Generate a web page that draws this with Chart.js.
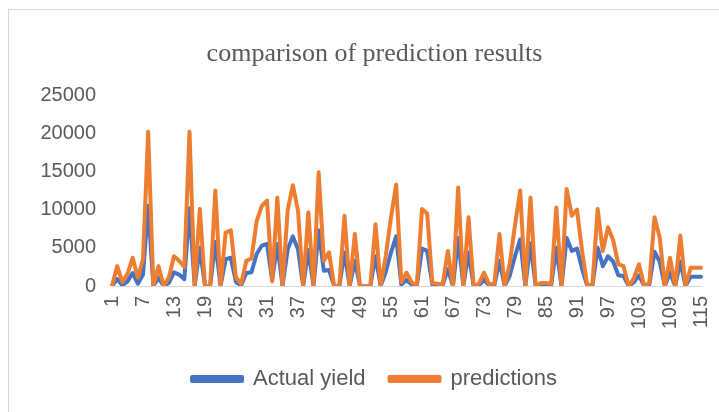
<!DOCTYPE html>
<html>
<head>
<meta charset="utf-8">
<script src="https://cdn.jsdelivr.net/npm/chart.js@4/dist/chart.umd.min.js"></script>
<style>
  html, body { margin: 0; padding: 0; background: #ffffff; }
  #wrap { width: 719px; height: 412px; }
</style>
</head>
<body>
<div id="wrap"><canvas id="c" width="719" height="412"></canvas></div>
<script>
// ---- data ----
const categories = [];
for (let i = 1; i <= 115; i++) categories.push(String(i));

const tickLabels = ['1','7','13','19','25','31','37','43','49','55','61','67','73','79','85','91','97','103','109','115'];

const actualYield = [
  0, 900, 100, 600, 1700, 300, 1500, 10500, 0, 1100,
  0, 400, 1800, 1500, 900, 10200, 0, 5000, 0, 0,
  5800, 0, 3500, 3700, 500, 100, 1700, 1800, 4200, 5300,
  5500, 800, 5500, 0, 4800, 6500, 4800, 0, 4700, 0,
  7300, 2000, 2100, 0, 0, 4400, 0, 3300, 0, 0,
  0, 3900, 0, 1900, 4400, 6500, 200, 800, 200, 0,
  4900, 4600, 200, 100, 100, 2200, 0, 6300, 0, 4400,
  0, 100, 800, 100, 100, 3300, 0, 1400, 3900, 6100,
  0, 5600, 0, 200, 200, 100, 5000, 0, 6300, 4600,
  4900, 2200, 0, 100, 5000, 2600, 3900, 3200, 1400, 1300,
  0, 500, 1400, 0, 200, 4500, 3200, 0, 1800, 0,
  3200, 0, 1200, 1200, 1200
];

const predictions = [
  0, 2600, 500, 1600, 3700, 1100, 3500, 20200, 0, 2600,
  0, 1100, 3900, 3300, 2500, 20200, 0, 10100, 0, 0,
  12500, 0, 7000, 7300, 1100, 300, 3300, 3600, 8500, 10500,
  11200, 600, 11600, 0, 9900, 13200, 9900, 0, 9650, 0,
  14900, 3300, 4400, 0, 0, 9200, 0, 6800, 0, 0,
  0, 8100, 0, 4000, 9000, 13300, 500, 1750, 500, 0,
  10100, 9500, 400, 300, 200, 4600, 0, 12900, 0, 9000,
  0, 300, 1750, 200, 300, 6800, 0, 3000, 8000, 12500,
  0, 11600, 0, 400, 400, 300, 10300, 0, 12700, 9200,
  10000, 4500, 0, 300, 10100, 4600, 7700, 6000, 2850, 2600,
  0, 1000, 2850, 0, 400, 9000, 6400, 0, 3700, 0,
  6600, 0, 2400, 2400, 2400
];

const seriesNames = ['Actual yield', 'predictions'];
const seriesColors = ['#4472C4', '#ED7D31'];

// ---- chart ----
const frame = {
  id: 'frame',
  beforeDraw(chart) {
    const ctx = chart.ctx;
    ctx.save();
    ctx.fillStyle = '#ffffff';
    ctx.fillRect(0, 0, chart.width, chart.height);
    ctx.strokeStyle = '#d9d9d9';
    ctx.lineWidth = 1;
    ctx.strokeRect(8.5, 9.5, 760, 460);
    ctx.restore();
  }
};

const sansFont = '"Liberation Sans", Arial, sans-serif';

new Chart(document.getElementById('c'), {
  type: 'line',
  data: {
    labels: categories,
    datasets: [
      { label: seriesNames[0], data: actualYield, borderColor: seriesColors[0], backgroundColor: seriesColors[0], order: 1 },
      { label: seriesNames[1], data: predictions, borderColor: seriesColors[1], backgroundColor: seriesColors[1], order: 0 }
    ]
  },
  options: {
    responsive: false,
    animation: false,
    devicePixelRatio: 1,
    elements: {
      line: { borderWidth: 4, tension: 0, borderJoinStyle: 'round', borderCapStyle: 'round' },
      point: { radius: 0, hoverRadius: 0 }
    },
    layout: { padding: { left: 10, right: -20, top: 10, bottom: 12 } },
    plugins: {
      title: {
        display: true,
        text: 'comparison of prediction results',
        color: '#595959',
        font: { family: '"Liberation Serif", "Times New Roman", serif', size: 26, weight: 'normal' },
        padding: { top: 29, bottom: 25 }
      },
      legend: {
        position: 'bottom',
        labels: {
          boxWidth: 50,
          boxHeight: 4,
          color: '#595959',
          padding: 24,
          font: { family: sansFont, size: 22 },
          sort: (a, b) => a.datasetIndex - b.datasetIndex
        }
      },
      tooltip: { enabled: false }
    },
    scales: {
      x: {
        type: 'category',
        offset: false,
        grid: { display: false, drawTicks: false },
        border: { display: true, color: '#d9d9d9', width: 1 },
        afterFit: (s) => { s.height = 58; s.paddingLeft = 0; s.paddingRight = 18; },
        ticks: {
          autoSkip: false,
          maxRotation: 90,
          minRotation: 90,
          padding: 10,
          color: '#595959',
          font: { family: sansFont, size: 20 },
          callback: function (value, index) {
            const lab = categories[index];
            return tickLabels.includes(lab) ? lab : null;
          }
        }
      },
      y: {
        min: 0,
        max: 25000,
        grid: { display: false, drawTicks: false },
        border: { display: false },
        afterFit: (s) => { s.width = 102; },
        ticks: {
          stepSize: 5000,
          padding: 16,
          color: '#595959',
          font: { family: sansFont, size: 20 },
          callback: (v) => String(v)
        }
      }
    }
  },
  plugins: [frame]
});
</script>
</body>
</html>
